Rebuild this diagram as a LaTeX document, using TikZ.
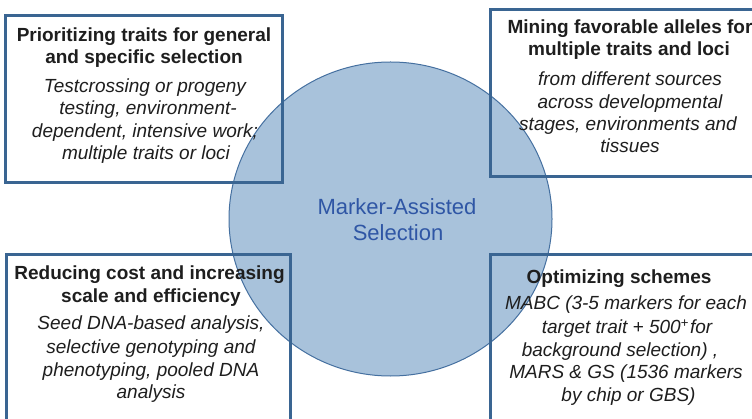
\documentclass[tikz,border=0pt]{standalone}
\usepackage{fontspec}
\setmainfont{Liberation Sans}
\definecolor{boxblue}{HTML}{3A6592}
\definecolor{hubfill}{HTML}{A8C2DB}
\definecolor{hubline}{HTML}{4570A0}
\definecolor{hubtext}{HTML}{2F56A5}
\definecolor{ink}{HTML}{1E1E1E}
\tikzset{
  panel/.style={draw=boxblue, line width=3pt},
  ttl/.style={anchor=base, font=\fontsize{19}{22}\selectfont\bfseries, text=ink, inner sep=0pt},
  bdy/.style={anchor=base, font=\fontsize{19}{22}\selectfont\itshape, text=ink, inner sep=0pt},
  hub/.style={anchor=base, font=\fontsize{22}{26}\selectfont, text=hubtext, inner sep=0pt},
}
\begin{document}
\begin{tikzpicture}[x=1pt,y=-1pt]
\useasboundingbox (0,0) rectangle (752,419);
\clip (0,0) rectangle (752,419);
\fill[white] (0,0) rectangle (752,419);
% central ellipse
\draw[hubline, fill=hubfill, line width=1pt] (390.5,219) ellipse [x radius=161.5, y radius=157];
% panels
\draw[panel] (5.3,15.7) rectangle (282.5,182.5);
\draw[panel] (490.5,10) rectangle (770,176.3);
\draw[panel] (6.7,254.3) rectangle (290.3,440);
\draw[panel] (490.7,255) rectangle (770,440);
% hub text
\node[hub] (h1) at (397,215) {Marker-Assisted};
\node[hub] (h2) at (398,241) {Selection};
% top-left
\node[ttl] (a1) at (144,41.7) {Prioritizing traits for general};
\node[ttl] (a2) at (144,63.3) {and specific selection};
\node[bdy] (a3) at (145,92.7) {Testcrossing or progeny};
\node[bdy] (a4) at (148,115) {testing, environment-};
\node[bdy] (a5) at (145,137.3) {dependent, intensive work;};
\node[bdy] (a6) at (146,159.3) {multiple traits or loci};
% top-right
\node[ttl] (b1) at (630,34) {Mining favorable alleles for};
\node[ttl] (b2) at (629,56) {multiple traits and loci};
\node[bdy] (b3) at (630,86) {from different sources};
\node[bdy] (b4) at (630,108.3) {across developmental};
\node[bdy] (b5) at (628,130.7) {stages, environments and};
\node[bdy] (b6) at (630,152.7) {tissues};
% bottom-left
\node[ttl] (c1) at (149.5,279.3) {Reducing cost and increasing};
\node[ttl] (c2) at (151,302.7) {scale and efficiency};
\node[bdy] (c3) at (151,330) {Seed DNA-based analysis,};
\node[bdy] (c4) at (151,353.3) {selective genotyping and};
\node[bdy] (c5) at (151,376.7) {phenotyping, pooled DNA};
\node[bdy] (c6) at (151,398.3) {analysis};
% bottom-right
\node[ttl] (d1) at (619,284) {Optimizing schemes};
\node[bdy] (d2) at (626,310) {MABC (3-5 markers for each};
\node[bdy] (d3) at (627,333.3) {target trait + 500\textsuperscript{+}\hspace{1pt}for};
\node[bdy] (d4) at (620,356.7) {background selection) ,};
\node[bdy] (d5) at (626,378.3) {MARS \& GS (1536 markers};
\node[bdy] (d6) at (628.5,401.7) {by chip or GBS)};
\end{tikzpicture}
\end{document}
